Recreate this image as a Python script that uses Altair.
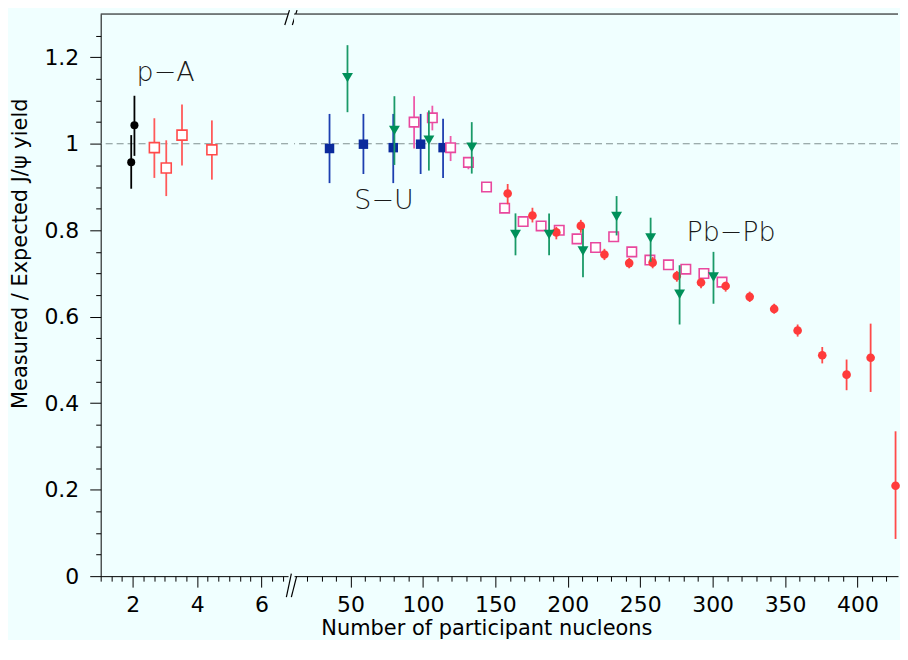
import altair as alt
import pandas as pd

# ---------------- data ----------------
# p-A, black filled circles
pa_b_x = [1.95, 2.05]
pa_b_y = [0.957, 1.043]
pa_b_lo = [0.896, 0.972]
pa_b_hi = [1.020, 1.111]

# p-A, red open squares
pa_r_x = [2.67, 3.04, 3.53, 4.46]
pa_r_y = [0.991, 0.944, 1.020, 0.986]
pa_r_lo = [0.921, 0.879, 0.950, 0.917]
pa_r_hi = [1.059, 1.008, 1.091, 1.054]

# S-U, blue filled squares
su_x = [35.5, 58.9, 79.5, 98.4, 113.9]
su_y = [0.989, 0.999, 0.991, 0.999, 0.991]
su_lo = [0.909, 0.930, 0.909, 0.930, 0.921]
su_hi = [1.069, 1.069, 1.069, 1.069, 1.058]

# green down triangles
gr_x = [47.9, 80.3, 104.1, 133.7, 163.9, 187.1, 210.5, 233.7, 257.2, 277.2, 300.6]
gr_y = [1.153, 1.031, 1.008, 0.992, 0.790, 0.790, 0.752, 0.832, 0.782, 0.652, 0.692]
gr_lo = [1.073, 0.951, 0.938, 0.931, 0.742, 0.742, 0.691, 0.788, 0.727, 0.582, 0.630]
gr_hi = [1.228, 1.110, 1.077, 1.050, 0.839, 0.839, 0.803, 0.879, 0.829, 0.719, 0.750]

# magenta open squares
mg_x = [93.9, 106.5, 119.1, 131.4, 143.9, 156.4, 169.2, 181.6, 194.1, 206.4,
        219.2, 231.7, 244.2, 256.7, 269.5, 281.5, 294.0, 306.5]
mg_y = [1.050, 1.060, 0.991, 0.957, 0.900, 0.851, 0.820, 0.810, 0.800, 0.780,
        0.760, 0.785, 0.750, 0.731, 0.720, 0.710, 0.700, 0.680]
mg_lo = [0.989, 1.031, 0.960, 0.941, 0.892, 0.843, 0.812, 0.802, 0.792, 0.772,
         0.752, 0.777, 0.742, 0.723, 0.712, 0.702, 0.692, 0.672]
mg_hi = [1.110, 1.088, 1.018, 0.969, 0.908, 0.859, 0.828, 0.818, 0.808, 0.788,
         0.768, 0.793, 0.758, 0.739, 0.728, 0.718, 0.708, 0.688]

# red filled circles
rd_x = [158.5, 175.6, 192.1, 209.0, 225.3, 242.4, 258.6, 275.3, 292.0, 309.0,
        325.6, 342.5, 358.7, 375.7, 392.5, 409.1, 426.3]
rd_y = [0.885, 0.834, 0.795, 0.810, 0.744, 0.724, 0.725, 0.694, 0.679, 0.671,
        0.646, 0.618, 0.568, 0.511, 0.466, 0.505, 0.209]
rd_lo = [0.860, 0.818, 0.779, 0.794, 0.731, 0.712, 0.712, 0.681, 0.666, 0.658,
         0.634, 0.607, 0.554, 0.492, 0.430, 0.426, 0.086]
rd_hi = [0.907, 0.852, 0.808, 0.824, 0.757, 0.736, 0.738, 0.706, 0.689, 0.681,
         0.658, 0.630, 0.582, 0.530, 0.501, 0.584, 0.335]

# annotations
left_lab = ["p\u2212A"]
left_lab_x = [3.02]
left_lab_y = [1.163]
right_lab = ["S\u2212U", "Pb\u2212Pb"]
right_lab_x = [73.1, 312.7]
right_lab_y = [0.867, 0.794]

# axis ticks
y_ticks = [round(i * 0.05, 2) for i in range(26)]
xl_ticks = [round(1 + i / 3, 4) for i in range(18)]
xr_ticks = list(range(20, 430, 10))

# ---------------- layout constants ----------------
LW, RW, H = 188, 606, 564
BG = "#f0ffff"
FONT = "DejaVu Sans"


def df(x, y, lo, hi):
    return pd.DataFrame({"x": x, "y": y, "lo": lo, "hi": hi})


ysc = alt.Scale(domain=[0, 1.3], nice=False, zero=False)
xl_sc = alt.Scale(domain=[1, 6.83], nice=False, zero=False)
xr_sc = alt.Scale(domain=[11, 428], nice=False, zero=False)


def dash_cond(test):
    return {"condition": {"test": test, "value": [20, 0]}, "value": [5, 20]}


y_major = "abs(datum.value*5-round(datum.value*5))<0.001"
y_axis = alt.Axis(
    values=y_ticks, format=".1~f",
    labelExpr=f"{y_major} ? datum.label : ''",
    tickSize=11, tickDash=dash_cond(y_major),
    labelFont=FONT, labelFontSize=22, labelColor="black", labelPadding=11,
    labelFlush=False, labelOverlap=False,
    title="Measured / Expected J/\u03c8 yield", titleFont=FONT, titleFontSize=21,
    titleFontWeight="normal", titleColor="black", titleX=-80, titleY=240,
    titleBaseline="middle",
    domainColor="black", tickColor="black", grid=False,
)

xl_major = "abs(datum.value-round(datum.value))<0.01 && round(datum.value)%2==0"
xl_axis = alt.Axis(
    values=xl_ticks, format=".0f",
    labelExpr=f"{xl_major} ? datum.label : ''",
    tickSize=11, tickDash=dash_cond(xl_major),
    labelFont=FONT, labelFontSize=22, labelColor="black", labelPadding=7,
    labelFlush=False, labelOverlap=False, title=None,
    domainColor="black", tickColor="black", grid=False,
)

xr_major = "datum.value%50==0"
xr_axis = alt.Axis(
    values=xr_ticks, format="d",
    labelExpr=f"{xr_major} ? datum.label : ''",
    tickSize=11, tickDash=dash_cond(xr_major),
    labelFont=FONT, labelFontSize=22, labelColor="black", labelPadding=7,
    labelFlush=False, labelOverlap=False,
    title="Number of participant nucleons", titleFont=FONT, titleFontSize=21,
    titleFontWeight="normal", titleColor="black", titleX=193, titleY=42,
    titleBaseline="top", titleAlign="center",
    domainColor="black", tickColor="black", grid=False,
)


def series(data, xsc, xaxis, color, bar_color, shape, size, filled, yaxis=None):
    base = alt.Chart(data)
    bars = base.mark_rule(color=bar_color, strokeWidth=1.8).encode(
        x=alt.X("x:Q", scale=xsc, axis=xaxis),
        y=alt.Y("lo:Q", scale=ysc, axis=yaxis),
        y2="hi:Q",
    )
    if filled:
        pts = base.mark_point(shape=shape, size=size, filled=True, color=color,
                              opacity=1, strokeWidth=0)
    else:
        pts = base.mark_point(shape=shape, size=size, filled=False, fill="white",
                              fillOpacity=1, stroke=color, strokeWidth=1.6,
                              opacity=1)
    pts = pts.encode(
        x=alt.X("x:Q", scale=xsc, axis=xaxis),
        y=alt.Y("y:Q", scale=ysc, axis=yaxis),
    )
    return [bars, pts]


def frame_layers(yaxis):
    one = pd.DataFrame({"v": [1]})
    dash = alt.Chart(one).mark_rule(color="#7f9090", strokeWidth=1,
                                    strokeDash=[7, 4]).encode(
        y=alt.Y(datum=1, scale=ysc, axis=yaxis))
    top = alt.Chart(one).mark_rule(color="black", strokeWidth=1).encode(
        y=alt.Y(datum=1.3, scale=ysc, axis=yaxis))
    return [dash, top]


def slash(x0, y0, x1, y1):
    return alt.Chart(pd.DataFrame({"v": [1]})).mark_rule(
        color="black", strokeWidth=1.2).encode(
        x=alt.value(x0), y=alt.value(y0), x2=alt.value(x1), y2=alt.value(y1))


# axis-break marks "//" (decoration)
breaks = [
    slash(LW - 3.3, 11, LW + 1.4, -4), slash(LW + 4.3, 11, LW + 9.0, -4),
    slash(LW - 1.7, H + 21, LW + 3.3, H - 2.5),
    slash(LW + 3.3, H + 21, LW + 9.3, H - 2.5),
]

# ---------------- left panel (p-A) ----------------
left_layers = frame_layers(y_axis)
left_layers += series(df(pa_b_x, pa_b_y, pa_b_lo, pa_b_hi), xl_sc, xl_axis,
                      "black", "black", "circle", 65, True, y_axis)
left_layers += series(df(pa_r_x, pa_r_y, pa_r_lo, pa_r_hi), xl_sc, xl_axis,
                      "#ff4a4a", "#ff5a5a", "square", 100, False, y_axis)
left_text = alt.Chart(pd.DataFrame({"x": left_lab_x, "y": left_lab_y,
                                    "t": left_lab})).mark_text(
    font=FONT, fontSize=27, fontWeight=200, color="#1a1a1a").encode(
    x=alt.X("x:Q", scale=xl_sc, axis=xl_axis),
    y=alt.Y("y:Q", scale=ysc, axis=y_axis),
    text="t:N")
left = alt.layer(*left_layers, left_text, *breaks).properties(
    width=LW, height=H)

# ---------------- right panel (S-U, Pb-Pb) ----------------
right_layers = frame_layers(None)
right_layers += series(df(su_x, su_y, su_lo, su_hi), xr_sc, xr_axis,
                       "#0b2a9c", "#1d3fb0", "square", 90, True, None)
right_layers += series(df(mg_x, mg_y, mg_lo, mg_hi), xr_sc, xr_axis,
                       "#e8489e", "#ee5aaa", "square", 90, False, None)
right_layers += series(df(rd_x, rd_y, rd_lo, rd_hi), xr_sc, xr_axis,
                       "#ff3b3b", "#ff4a4a", "circle", 75, True, None)
right_layers += series(df(gr_x, gr_y, gr_lo, gr_hi), xr_sc, xr_axis,
                       "#00905a", "#1a9a68", "triangle-down", 120, True, None)
right_text = alt.Chart(pd.DataFrame({"x": right_lab_x, "y": right_lab_y,
                                     "t": right_lab})).mark_text(
    font=FONT, fontSize=27, fontWeight=200, color="#1a1a1a").encode(
    x=alt.X("x:Q", scale=xr_sc, axis=xr_axis),
    y=alt.Y("y:Q", scale=ysc, axis=None),
    text="t:N")
right = alt.layer(*right_layers, right_text).properties(width=RW, height=H)

chart = alt.hconcat(left, right, spacing=6, bounds="flush").properties(
    background=BG,
    padding={"left": 1, "top": 0, "right": 0, "bottom": 0},
).configure_view(stroke=None, fill=BG)

chart.save("out.html", embed_options={"renderer": "svg", "actions": False})
